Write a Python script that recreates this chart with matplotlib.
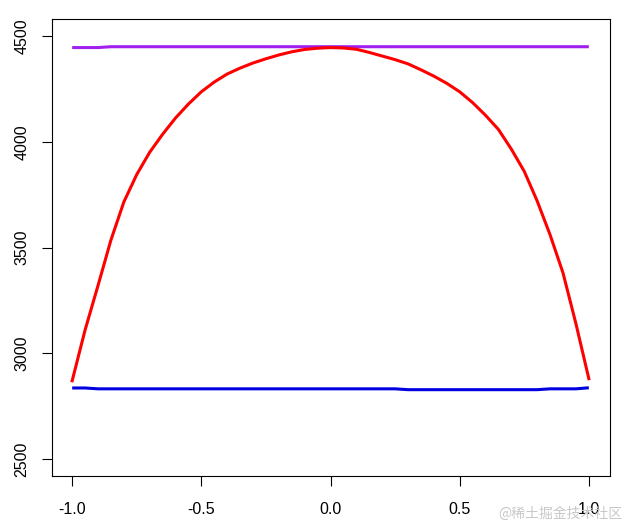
import matplotlib
matplotlib.use("Agg")
import matplotlib.pyplot as plt

# x grid shared by all three series
x = [-1.0, -0.95, -0.9, -0.85, -0.8, -0.75, -0.7, -0.65, -0.6, -0.55,
     -0.5, -0.45, -0.4, -0.35, -0.3, -0.25, -0.2, -0.15, -0.1, -0.05,
     0.0, 0.05, 0.1, 0.15, 0.2, 0.25, 0.3, 0.35, 0.4, 0.45,
     0.5, 0.55, 0.6, 0.65, 0.7, 0.75, 0.8, 0.85, 0.9, 0.95, 1.0]

red = [2870, 3110, 3320, 3535, 3715, 3845, 3950, 4035, 4112, 4178,
       4236, 4282, 4320, 4348, 4372, 4392, 4410, 4425, 4436, 4442,
       4445, 4443, 4437, 4422, 4405, 4388, 4368, 4340, 4310, 4276,
       4236, 4185, 4125, 4058, 3965, 3860, 3720, 3560, 3380, 3140, 2880]

blue = [2836, 2836, 2832, 2832, 2832, 2832, 2832, 2832, 2832, 2832,
        2832, 2832, 2832, 2832, 2832, 2832, 2832, 2832, 2832, 2832,
        2832, 2832, 2832, 2832, 2832, 2832, 2828, 2828, 2828, 2828,
        2828, 2828, 2828, 2828, 2828, 2828, 2828, 2832, 2832, 2832, 2837]

purple = [4445, 4445, 4445, 4449, 4449, 4449, 4449, 4449, 4449, 4449,
          4449, 4449, 4449, 4449, 4449, 4449, 4449, 4449, 4449, 4449,
          4449, 4449, 4449, 4449, 4449, 4449, 4449, 4449, 4449, 4449,
          4449, 4449, 4449, 4449, 4449, 4449, 4449, 4449, 4449, 4449, 4449]

xticks = [-1.0, -0.5, 0.0, 0.5, 1.0]
xticklabels = ["-1.0", "-0.5", "0.0", "0.5", "1.0"]
yticks = [2500, 3000, 3500, 4000, 4500]

plt.rcParams['font.family'] = ['Liberation Sans Narrow', 'Liberation Sans', 'DejaVu Sans']

W, H = 626, 526
fig = plt.figure(figsize=(W / 100, H / 100), dpi=100)
ax = fig.add_axes([51.5 / W, (H - 476) / H, (609.5 - 51.5) / W, (476 - 19) / H])

ax.plot(x, purple, color="#A020F0", lw=2.2, solid_capstyle="butt")
ax.plot(x, red, color="#FF0000", lw=2.2)
ax.plot(x, blue, color="#0000E0", lw=2.2, solid_capstyle="butt")

# R style: 4% padding around the range
ax.set_xlim(-1.08, 1.08)
ax.set_ylim(2420, 4580)

ax.set_xticks(xticks)
ax.set_xticklabels(xticklabels)
ax.set_yticks(yticks)
ax.set_yticklabels([str(v) for v in yticks], rotation=90, va="center")

ax.tick_params(axis="both", direction="out", length=7, width=0.8,
               labelsize=11.5, color="black")
ax.tick_params(axis="x", pad=12)
ax.tick_params(axis="y", pad=9)
for s in ax.spines.values():
    s.set_linewidth(0.8)

fig.text(622 / W, 1 - 514 / H, "@稀土掘金技术社区", ha="right", va="center",
         fontsize=10, color="#c8c8c8",
         family=["Noto Sans CJK SC", "DejaVu Sans"])

fig.savefig("out.png", dpi=100, facecolor="white")
